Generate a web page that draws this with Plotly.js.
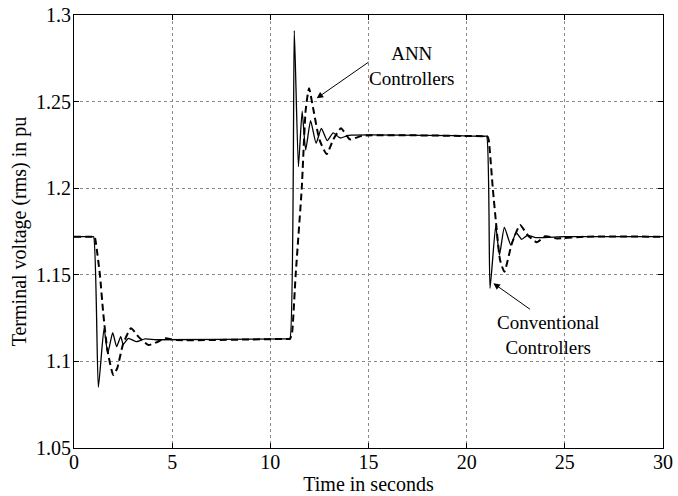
<!DOCTYPE html>
<html>
<head>
<meta charset="utf-8">
<script src="https://cdn.plot.ly/plotly-3.0.1.min.js"></script>
<style>html,body{margin:0;padding:0;background:#fff;}#chart{width:678px;height:496px;}</style>
</head>
<body>
<div id="chart"></div>
<script>
// Conventional controllers (solid line)
const convTime = [0, 0.9, 1.0, 1.24, 1.53, 1.72, 1.97, 2.17, 2.38, 2.51, 2.77, 3.19, 3.62, 4.2, 10.9, 11.0, 11.22, 11.43, 11.62, 11.8, 12.05, 12.33, 12.6, 12.9, 13.2, 13.55, 14.0, 20.9, 21.02, 21.19, 21.48, 21.67, 21.92, 22.25, 22.52, 22.8, 23.1, 23.5, 25.0, 30];
const convVolt = [1.172, 1.172, 1.172, 1.085, 1.119, 1.1047, 1.1166, 1.1085, 1.1143, 1.1099, 1.1133, 1.1114, 1.113, 1.1125, 1.113, 1.113, 1.291, 1.2124, 1.2445, 1.222, 1.239, 1.226, 1.2345, 1.2275, 1.232, 1.229, 1.2305, 1.23, 1.23, 1.1422, 1.1782, 1.1614, 1.1774, 1.1672, 1.1743, 1.1705, 1.1728, 1.1715, 1.172, 1.172];

// ANN controllers (dashed line)
const annTime = [0, 0.95, 1.05, 1.12, 1.32, 1.49, 1.7, 2.0, 2.2, 2.5, 2.9, 3.3, 3.79, 4.2, 4.64, 5.2, 10.9, 11.0, 11.1, 11.29, 11.6, 11.8, 11.97, 12.2, 12.5, 12.87, 13.2, 13.6, 14.05, 14.7, 20.95, 21.05, 21.12, 21.33, 21.53, 21.7, 21.92, 22.3, 22.72, 23.1, 23.57, 24.0, 24.6, 26.0, 30];
const annVolt = [1.172, 1.172, 1.172, 1.168, 1.15, 1.1278, 1.1066, 1.0922, 1.096, 1.11, 1.1191, 1.114, 1.1095, 1.111, 1.1133, 1.1123, 1.113, 1.113, 1.116, 1.15, 1.2, 1.245, 1.2577, 1.245, 1.228, 1.2197, 1.228, 1.2346, 1.2282, 1.2303, 1.23, 1.23, 1.228, 1.2, 1.1759, 1.1585, 1.1518, 1.168, 1.1787, 1.173, 1.1688, 1.1722, 1.171, 1.172, 1.172];

const xTicks = [0, 5, 10, 15, 20, 25, 30];
const yTicks = [1.05, 1.1, 1.15, 1.2, 1.25, 1.3];
const yTickText = ['1.05', '1.1', '1.15', '1.2', '1.25', '1.3'];

const serif = 'Liberation Serif, Times New Roman, serif';

const traces = [
  {x: convTime, y: convVolt, type: 'scatter', mode: 'lines', name: 'Conventional',
   line: {color: '#000', width: 1.3, shape: 'spline', smoothing: 0.5}},
  {x: annTime, y: annVolt, type: 'scatter', mode: 'lines', name: 'ANN',
   line: {color: '#000', width: 2, dash: '7px,4px', shape: 'spline', smoothing: 0.5}}
];

const axisCommon = {
  showline: true, linecolor: '#000', linewidth: 1, mirror: 'ticks',
  ticks: 'inside', ticklen: 5, tickcolor: '#000', tickwidth: 1,
  showgrid: true, gridcolor: '#8a8a8a', gridwidth: 1, griddash: 'dot',
  zeroline: false, tickfont: {family: serif, size: 20, color: '#000'}
};

const layout = {
  width: 678, height: 496,
  margin: {l: 74, r: 15, t: 15, b: 48},
  paper_bgcolor: '#fff', plot_bgcolor: '#fff',
  showlegend: false,
  font: {family: serif, color: '#000'},
  xaxis: Object.assign({}, axisCommon, {
    range: [0, 30], tickvals: xTicks, ticktext: xTicks.map(String), ticklabelstandoff: -4,
    title: {text: 'Time in seconds', font: {family: serif, size: 20, color: '#000'}, standoff: 0}
  }),
  yaxis: Object.assign({}, axisCommon, {
    range: [1.05, 1.3], tickvals: yTicks, ticktext: yTickText, ticklabelstandoff: -2,
    title: {text: 'Terminal voltage (rms) in pu', font: {family: serif, size: 20, color: '#000'}, standoff: 4}
  }),
  annotations: [
    {x: 17.22, y: 1.2703, xref: 'x', yref: 'y', text: 'ANN<br>Controllers', showarrow: false,
     font: {family: serif, size: 19, color: '#000'}, align: 'center'},
    {x: 12.36, y: 1.2519, ax: 15.08, ay: 1.2734, axref: 'x', ayref: 'y', xref: 'x', yref: 'y',
     text: '', showarrow: true, arrowhead: 2, arrowsize: 1.3, arrowwidth: 1, arrowcolor: '#000'},
    {x: 24.15, y: 1.1152, xref: 'x', yref: 'y', text: 'Conventional<br>Controllers', showarrow: false,
     font: {family: serif, size: 19, color: '#000'}, align: 'center'},
    {x: 21.36, y: 1.1451, ax: 23.3, ay: 1.1295, axref: 'x', ayref: 'y', xref: 'x', yref: 'y',
     text: '', showarrow: true, arrowhead: 2, arrowsize: 1.3, arrowwidth: 1, arrowcolor: '#000'}
  ]
};

Plotly.newPlot('chart', traces, layout, {staticPlot: true, displayModeBar: false});
</script>
</body>
</html>
